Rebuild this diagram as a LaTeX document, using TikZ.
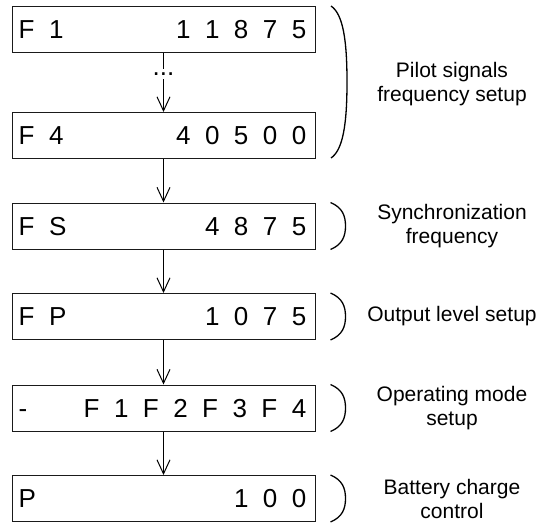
\documentclass[tikz,border=0pt]{standalone}
\usepackage{fontspec}
\setmainfont{Liberation Sans}
\usepackage{tikz}
\usetikzlibrary{arrows.meta,positioning}
\definecolor{ink}{HTML}{000000}
\definecolor{frame}{HTML}{1A1A1A}
\tikzset{
  >={Straight Barb[length=14pt,width=13pt]},
  display/.style={draw=frame,line width=1pt,fill=white,minimum width=303pt,minimum height=46pt,inner sep=0pt},
  lcd/.style={font=\fontsize{26}{26}\selectfont,inner sep=0pt,text height=18.6pt,text depth=0pt,text=ink},
  flow/.style={->,line width=1pt,color=ink},
  bracket/.style={line width=1.3pt,color=ink},
  note/.style={font=\fontsize{21}{24}\selectfont,align=center,text=ink},
}
\newcommand{\lcdgap}{\hspace{.556em}}

\begin{document}
\begin{tikzpicture}[x=1pt,y=-1pt]
  \useasboundingbox (0,0) rectangle (540,522);

  % display rows
  \node[display] (f1) at (163.5,29) {};
  \node[lcd,anchor=west] (f1name) at ([xshift=7pt]f1.west) {F\lcdgap1};
  \node[lcd,anchor=east] (f1val) at ([xshift=-9pt]f1.east) {1\lcdgap1\lcdgap8\lcdgap7\lcdgap5};

  \node[display] (f4) at (163.5,135.5) {};
  \node[lcd,anchor=west] (f4name) at ([xshift=7pt]f4.west) {F\lcdgap4};
  \node[lcd,anchor=east] (f4val) at ([xshift=-9pt]f4.east) {4\lcdgap0\lcdgap5\lcdgap0\lcdgap0};

  \node[display] (fs) at (163.5,226) {};
  \node[lcd,anchor=west] (fsname) at ([xshift=7pt]fs.west) {F\lcdgap S};
  \node[lcd,anchor=east] (fsval) at ([xshift=-9pt]fs.east) {4\lcdgap8\lcdgap7\lcdgap5};

  \node[display] (fp) at (163.5,316.5) {};
  \node[lcd,anchor=west] (fpname) at ([xshift=7pt]fp.west) {F\lcdgap P};
  \node[lcd,anchor=east] (fpval) at ([xshift=-9pt]fp.east) {1\lcdgap0\lcdgap7\lcdgap5};

  \node[display] (mode) at (163.5,408) {};
  \node[lcd,anchor=west] (modename) at ([xshift=7pt]mode.west) {-};
  \node[lcd,anchor=east] (modeval) at ([xshift=-9pt]mode.east)
    {F\lcdgap1\lcdgap F\lcdgap2\lcdgap F\lcdgap3\lcdgap F\lcdgap4};

  \node[display] (bat) at (163.5,498.5) {};
  \node[lcd,anchor=west] (batname) at ([xshift=7pt]bat.west) {P};
  \node[lcd,anchor=east] (batval) at ([xshift=-9pt]bat.east) {1\lcdgap0\lcdgap0};

  % skipped rows
  \node[font=\fontsize{26}{26}\selectfont,inner sep=0pt,minimum width=21pt,minimum height=10pt] (dots) at (163.5,74) {...};

  % connectors
  \draw[line width=1pt,color=ink] (f1) -- (dots);
  \draw[flow] (dots) -- (f4);
  \draw[flow] (f4) -- (fs);
  \draw[flow] (fs) -- (fp);
  \draw[flow] (fp) -- (mode);
  \draw[flow] (mode) -- (bat);

  % brackets
  \draw[bracket] (331,6) .. controls (343,14) and (347,40) .. (347,82)
    .. controls (347,124) and (343,150) .. (331,158);
  \draw[bracket] ([xshift=15pt]fs.north east) .. controls ([xshift=27pt,yshift=-5pt]fs.north east) and ([xshift=30pt,yshift=10pt]fs.east) .. ([xshift=30pt]fs.east)
    .. controls ([xshift=30pt,yshift=-10pt]fs.east) and ([xshift=27pt,yshift=5pt]fs.south east) .. ([xshift=15pt]fs.south east);
  \draw[bracket] ([xshift=15pt]fp.north east) .. controls ([xshift=27pt,yshift=-5pt]fp.north east) and ([xshift=30pt,yshift=10pt]fp.east) .. ([xshift=30pt]fp.east)
    .. controls ([xshift=30pt,yshift=-10pt]fp.east) and ([xshift=27pt,yshift=5pt]fp.south east) .. ([xshift=15pt]fp.south east);
  \draw[bracket] ([xshift=15pt]mode.north east) .. controls ([xshift=27pt,yshift=-5pt]mode.north east) and ([xshift=30pt,yshift=10pt]mode.east) .. ([xshift=30pt]mode.east)
    .. controls ([xshift=30pt,yshift=-10pt]mode.east) and ([xshift=27pt,yshift=5pt]mode.south east) .. ([xshift=15pt]mode.south east);
  \draw[bracket] ([xshift=15pt]bat.north east) .. controls ([xshift=27pt,yshift=-5pt]bat.north east) and ([xshift=30pt,yshift=10pt]bat.east) .. ([xshift=30pt]bat.east)
    .. controls ([xshift=30pt,yshift=-10pt]bat.east) and ([xshift=27pt,yshift=5pt]bat.south east) .. ([xshift=15pt]bat.south east);

  % notes
  \node[note] (pilotnote) at (452,84) {Pilot signals\\frequency setup};
  \node[note] (syncnote) at (452,226) {Synchronization\\frequency};
  \node[note] (levelnote) at (452,316.5) {Output level setup};
  \node[note] (modenote) at (452,408) {Operating mode\\setup};
  \node[note] (batnote) at (452,498.5) {Battery charge\\control};
\end{tikzpicture}
\end{document}
